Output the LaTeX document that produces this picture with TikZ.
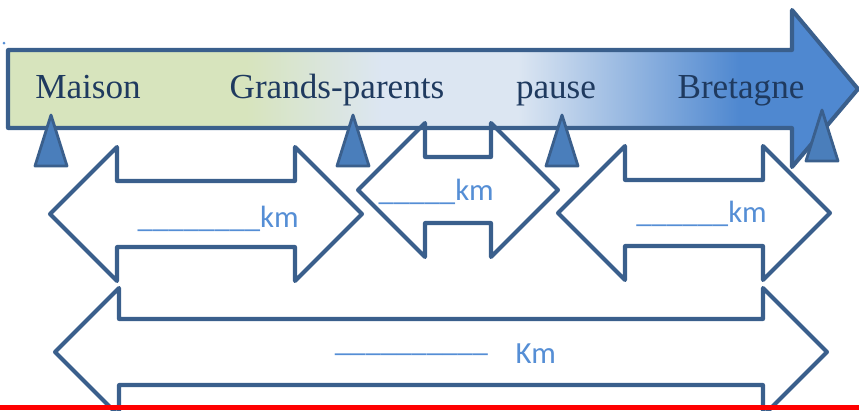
\documentclass[tikz,border=0pt]{standalone}
\usepackage{fontspec}
\setmainfont{Liberation Serif}
\newfontfamily\calibri{Carlito}
\definecolor{contour}{HTML}{3A5F8C}
\definecolor{vert}{HTML}{D7E4BD}
\definecolor{bleuclair}{HTML}{DCE6F2}
\definecolor{bleu}{HTML}{4F88D0}
\definecolor{marine}{HTML}{1F3A5F}
\definecolor{repere}{HTML}{4A7EBB}
\definecolor{texte}{HTML}{558ED5}
\pgfdeclarehorizontalshading{route}{100bp}{color(0bp)=(vert); color(39bp)=(vert); color(47bp)=(bleuclair); color(55bp)=(bleuclair); color(68bp)=(bleu); color(100bp)=(bleu)}
\begin{document}
\begin{tikzpicture}[x=0.02cm,y=-0.02cm,line join=round,
fleche/.style={draw=contour,line width=2.3pt},
pied/.style={draw=contour,fill=repere,line width=1.6pt},
lieu/.style={text=marine,font=\fontsize{20}{24}\selectfont,anchor=base},
km/.style={text=texte,font=\calibri\fontsize{17.5}{20}\selectfont,anchor=base east}]
\useasboundingbox (0,0) rectangle (859,410);
\def\b{33}
% la route
\path[fleche,shade,shading=route] (8,50)--(792,50)--(792,10)--(858,89)--(792,167)--(792,128)--(8,128)--cycle;
\fill[texte] (4,43) circle (1.5);
\foreach \n/\x/\t in {maison/88/Maison,grands/337/Grands-parents,pause/556/pause,bretagne/741/Bretagne}{\node[lieu] (\n) at (\x,98) {\t};
}
\foreach \x/\y in {51/115,353/115,562/115,822/110}{\draw[pied] (\x-16,\y+51)--(\x,\y)--(\x+16,\y+51)--cycle;
}
% les distances
\foreach \g/\d/\m/\h in {50/362/214/67,358/558/190/67,558/830/213/67,55/827/352/64}{\draw[fleche] (\g,\m)--(\g+\h,\m-\h)--(\g+\h,\m-\b)--(\d-\h,\m-\b)--(\d-\h,\m-\h)--(\d,\m)--(\d-\h,\m+\h)--(\d-\h,\m+\b)--(\g+\h,\m+\b)--(\g+\h,\m+\h)--cycle;
}
\node[km] (d1) at (305,227) {\_\_\_\_\_\_\_\_km};
\node[km] (d2) at (500,200) {\_\_\_\_\_km};
\node[km] (d3) at (773,222) {\_\_\_\_\_\_km};
\node[km] (total) at (562,363) {\raisebox{0.38em}{\_\_\_\_\_\_\_\_\_\_}\hspace{0.9em}Km};
\fill[red] (0,405) rectangle (859,410);
\end{tikzpicture}
\end{document}
